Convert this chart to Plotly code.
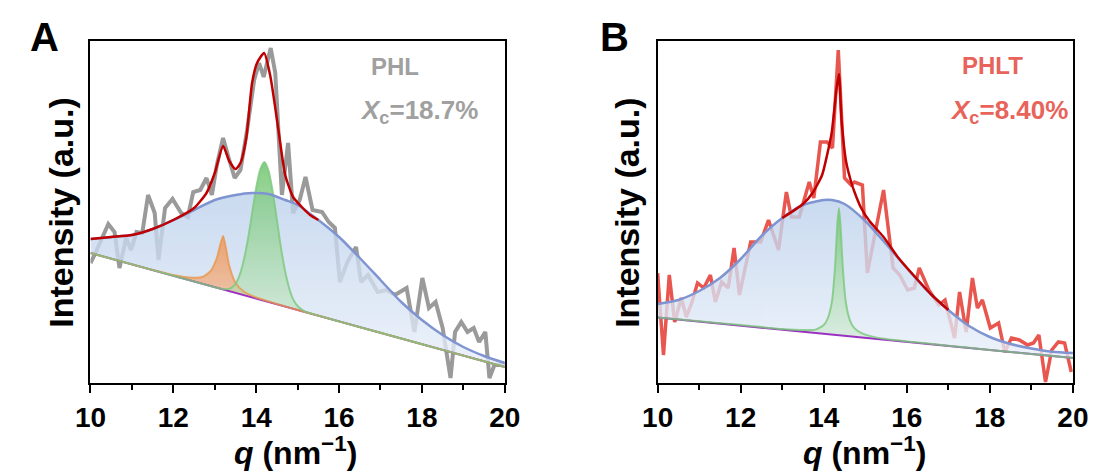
import plotly.graph_objects as go

# ---------------- Panel A (PHL) ----------------
qA_raw = [10.00, 10.12, 10.43, 10.58, 10.70, 10.86, 10.98, 11.11, 11.25, 11.39, 11.55, 11.64, 11.80, 11.98,
          12.19, 12.35, 12.48, 12.65, 12.80, 12.93, 13.05, 13.20, 13.35, 13.48, 13.62, 13.78, 13.95, 14.07,
          14.18, 14.35, 14.46, 14.55, 14.62, 14.77, 14.89, 15.05, 15.19, 15.36, 15.59, 15.75, 15.90, 16.02,
          16.20, 16.41, 16.53, 16.70, 16.93, 17.15, 17.35, 17.63, 17.82, 18.01, 18.17, 18.33, 18.50, 18.69,
          18.80, 18.95, 19.10, 19.25, 19.38, 19.53, 19.63, 19.75, 19.89, 20.00]
yA_raw = [120, 130, 159, 151, 115, 145, 133, 151, 150, 188, 170, 123, 175, 184,
          170, 166, 191, 193, 205, 188, 218, 245, 223, 205, 213, 253, 303, 320,
          306, 335, 310, 250, 188, 240, 170, 183, 206, 173, 171, 161, 155, 101,
          121, 136, 101, 108, 91, 93, 88, 95, 51, 105, 75, 81, 55, 5,
          51, 61, 51, 55, 41, 51, 5, 18, 18, 20]

qA_fit = [10.0, 10.5, 11.0, 11.5, 12.0, 12.5, 12.8, 13.0, 13.2, 13.35, 13.5, 13.62, 13.76, 13.9, 14.02,
          14.19, 14.34, 14.54, 14.7, 14.89, 15.1, 15.3, 15.5]
yA_fit = [144, 146, 148, 154, 163, 175, 190, 210, 237, 222, 214, 220, 245, 300, 320,
          330, 307, 252, 208, 186, 176, 168, 163]

qA_halo = [10.0, 10.5, 11.0, 11.5, 12.0, 12.5, 13.0, 13.5, 13.9, 14.3, 14.7, 15.0, 15.5, 16.0, 16.5,
           17.0, 17.5, 18.0, 18.5, 19.0, 19.5, 20.0]
yA_halo = [144, 146, 148, 154, 163, 173, 183, 188, 190, 189, 183, 178, 163, 146, 125,
           103, 81, 63, 48, 36, 27, 20]

qA_base = [10, 11, 12, 13, 14, 15, 16, 17, 18, 19, 20]
yA_base = [130, 118.6, 107.2, 95.8, 84.4, 73, 61.6, 50.2, 38.8, 27.4, 16]

qA_orange = [10, 11, 12, 12.4, 12.7, 12.9, 13.05, 13.2, 13.35, 13.5, 13.7, 14.0, 14.5, 15, 16, 17, 18, 19, 20]
yA_orange = [130, 118.6, 108, 105.5, 106, 112, 125, 147, 117, 100, 91.5, 85.5, 79, 73, 61.6, 50.2, 38.8, 27.4, 16]

qA_green = [10, 11, 12, 13, 13.2, 13.3, 13.4, 13.5, 13.6, 13.7, 13.8, 13.9, 14.0, 14.1, 14.2, 14.3, 14.4,
            14.5, 14.6, 14.7, 14.8, 14.9, 15.0, 15.1, 15.2, 16, 17, 18, 19, 20]
yA_green = [130, 118.6, 107.2, 95.8, 93.9, 93.9, 95.2, 99.1, 107.9, 122.8, 143.7, 169.5, 195.4, 214, 221,
            212, 191, 163, 134.6, 111.4, 94.3, 83, 77, 73.4, 71.1, 61.6, 50.2, 38.8, 27.4, 16]

# ---------------- Panel B (PHLT) ----------------
qB_raw = [10.0, 10.14, 10.28, 10.41, 10.57, 10.69, 10.82, 10.96, 11.11, 11.27, 11.39, 11.54, 11.7, 11.84,
          11.97, 12.1, 12.24, 12.48, 12.67, 12.91, 13.1, 13.22, 13.41, 13.65, 13.76, 13.92, 14.08, 14.21,
          14.35, 14.5, 14.66, 14.74, 14.93, 15.05, 15.44, 15.67, 15.83, 16.02, 16.18, 16.3, 16.53, 16.77,
          16.92, 17.15, 17.27, 17.43, 17.58, 17.7, 17.82, 18.01, 18.21, 18.36, 18.52, 18.71, 18.91, 19.05,
          19.18, 19.34, 19.49, 19.65, 19.8, 19.96]
yB_raw = [110, 28, 108, 61, 85, 66, 80, 100, 95, 108, 81, 101, 95, 135,
          88, 115, 141, 141, 163, 133, 191, 166, 166, 201, 185, 241, 241, 235,
          333, 205, 198, 201, 198, 110, 193, 115, 108, 93, 95, 115, 93, 78,
          83, 45, 91, 51, 105, 75, 83, 55, 60, 31, 45, 43, 38, 40,
          48, 1, 33, 41, 40, 11]

qB_fit = [13.0, 13.5, 13.73, 13.96, 14.08, 14.19, 14.31, 14.365, 14.43, 14.54, 14.66, 14.74, 14.9, 15.1,
          15.44, 15.8, 16.2, 16.6, 17.0]
yB_fit = [165, 179, 190, 208, 228, 250, 295, 309, 262, 221, 201, 191, 175, 162,
          146, 125, 106, 88, 73]

qB_halo = [10.0, 10.5, 11.0, 11.5, 12.0, 12.5, 13.0, 13.5, 14.0, 14.2, 14.5, 15.0, 15.5, 16.0, 16.5,
           17.0, 17.5, 18.0, 18.5, 19.0, 19.5, 20.0]
yB_halo = [79, 83, 92, 105, 124, 147, 165, 178, 183, 183, 179, 162, 139, 115, 92,
           73, 57, 46, 39, 34.5, 31.3, 30]

qB_base = [10, 11, 12, 13, 14, 15, 16, 17, 18, 19, 20]
yB_base = [65.5, 61.5, 57.4, 53.3, 49.2, 45.2, 41.1, 37.1, 33.0, 28.9, 24.9]

qB_green = [10, 11, 12, 13, 13.5, 13.8, 14.0, 14.1, 14.2, 14.27, 14.33, 14.365, 14.4, 14.46, 14.53,
            14.63, 14.73, 14.9, 15.2, 15.5, 16, 17, 18, 19, 20]
yB_green = [65.5, 61.7, 57.9, 54.0, 52.9, 53.4, 58, 65, 82.4, 115, 161, 175, 160.6, 114.4, 81,
            62.7, 55.1, 50.1, 46.1, 44, 41.6, 37.3, 33, 28.9, 24.9]

x_ticks = [10, 12, 14, 16, 18, 20]
x_range = [10, 20]
y_range = [0, 342.3]

FONT = "Liberation Sans, Arial, Helvetica, sans-serif"

fig = go.Figure()


def add_panel(xa, ya, q_raw, y_raw, raw_color, raw_width,
              q_base, y_base, q_halo, y_halo, q_fit, y_fit, peaks, base_color):
    # raw data (under translucent fills)
    fig.add_trace(go.Scatter(x=q_raw, y=y_raw, mode="lines", xaxis=xa, yaxis=ya,
                             line=dict(color=raw_color, width=raw_width), showlegend=False,
                             hoverinfo="skip"))
    # amorphous halo fill
    fig.add_trace(go.Scatter(x=q_base, y=y_base, mode="lines", xaxis=xa, yaxis=ya,
                             line=dict(width=0), showlegend=False, hoverinfo="skip"))
    fig.add_trace(go.Scatter(x=q_halo, y=y_halo, mode="lines", xaxis=xa, yaxis=ya,
                             line=dict(width=0, shape="spline", smoothing=0.7), fill="tonexty",
                             fillcolor="rgba(200,216,238,0.75)",
                             fillgradient=dict(type="vertical",
                                               colorscale=[[0, "rgba(232,239,249,0.78)"],
                                                           [1, "rgba(188,209,236,0.80)"]]),
                             showlegend=False, hoverinfo="skip"))
    # crystalline peaks fills
    for qp, yp, lc, c0, c1 in peaks:
        fig.add_trace(go.Scatter(x=q_base, y=y_base, mode="lines", xaxis=xa, yaxis=ya,
                                 line=dict(width=0), showlegend=False, hoverinfo="skip"))
        fig.add_trace(go.Scatter(x=qp, y=yp, mode="lines", xaxis=xa, yaxis=ya,
                                 line=dict(width=0, shape="spline", smoothing=0.6), fill="tonexty",
                                 fillcolor=c1,
                                 fillgradient=dict(type="vertical", colorscale=[[0, c0], [1, c1]]),
                                 showlegend=False, hoverinfo="skip"))
    # lines
    fig.add_trace(go.Scatter(x=q_base, y=y_base, mode="lines", xaxis=xa, yaxis=ya,
                             line=dict(color=base_color, width=2), showlegend=False, hoverinfo="skip"))
    for qp, yp, lc, c0, c1 in peaks:
        fig.add_trace(go.Scatter(x=qp, y=yp, mode="lines", xaxis=xa, yaxis=ya,
                                 line=dict(color=lc, width=2, shape="spline", smoothing=0.6),
                                 opacity=0.8, showlegend=False, hoverinfo="skip"))
    fig.add_trace(go.Scatter(x=q_halo, y=y_halo, mode="lines", xaxis=xa, yaxis=ya,
                             line=dict(color="#7f94d0", width=2.5, shape="spline", smoothing=0.7),
                             showlegend=False, hoverinfo="skip"))
    fig.add_trace(go.Scatter(x=q_fit, y=y_fit, mode="lines", xaxis=xa, yaxis=ya,
                             line=dict(color="#c00000", width=2.5, shape="spline", smoothing=0.6),
                             showlegend=False, hoverinfo="skip"))


add_panel("x", "y", qA_raw, yA_raw, "#9a9a9a", 4,
          qA_base, yA_base, qA_halo, yA_halo, qA_fit, yA_fit,
          [(qA_orange, yA_orange, "#e8984e", "rgba(246,214,186,0.55)", "rgba(240,150,90,0.85)"),
           (qA_green, yA_green, "#7cc87c", "rgba(215,238,212,0.45)", "rgba(110,196,110,0.85)")],
          "#a030c0")

add_panel("x2", "y2", qB_raw, yB_raw, "#e8574f", 3.5,
          qB_base, yB_base, qB_halo, yB_halo, qB_fit, yB_fit,
          [(qB_green, yB_green, "#7cc87c", "rgba(215,238,212,0.45)", "rgba(110,196,110,0.85)")],
          "#9a30c0")

xaxis_style = dict(range=x_range, tickvals=x_ticks, ticktext=[str(t) for t in x_ticks],
                   showline=True, linecolor="black", linewidth=2, mirror=True,
                   ticks="outside", ticklen=8, tickwidth=2, tickcolor="black",
                   minor=dict(dtick=1, ticks="outside", ticklen=5, tickwidth=2, tickcolor="black"),
                   tickfont=dict(family=FONT, size=28, color="black", weight="bold"),
                   showgrid=False, zeroline=False, fixedrange=True)
yaxis_style = dict(range=y_range, showline=True, linecolor="black", linewidth=2, mirror=True,
                   ticks="", showticklabels=False, showgrid=False, zeroline=False, fixedrange=True)

y_dom = [1 - 383 / 475, 1 - 40.7 / 475]
fig.update_layout(
    width=1110, height=475, autosize=False,
    margin=dict(l=0, r=0, t=0, b=0),
    paper_bgcolor="white", plot_bgcolor="white",
    xaxis=dict(domain=[76.7 / 1110, 503.3 / 1110], anchor="y", **xaxis_style),
    yaxis=dict(domain=y_dom, anchor="x", **yaxis_style),
    xaxis2=dict(domain=[660.7 / 1110, 1088.3 / 1110], anchor="y2", **xaxis_style),
    yaxis2=dict(domain=y_dom, anchor="x2", **yaxis_style),
    showlegend=False,
)


def ann(text, px, py, size, color="black", angle=0):
    fig.add_annotation(text=text, x=px / 1110, y=1 - py / 475, xref="paper", yref="paper",
                       showarrow=False, textangle=angle, xanchor="center", yanchor="middle",
                       font=dict(family=FONT, size=size, color=color), borderpad=0)


ann("<b>A</b>", 29, 37, 40)
ann("<b>B</b>", 616, 37, 40)
ann("<b>Intensity (a.u.)</b>", 46, 213, 34, angle=-90)
ann("<b>Intensity (a.u.)</b>", 629, 213, 34, angle=-90)
ann("<b><i>q</i> (nm<sup>−1</sup>)</b>", 288, 451, 32)
ann("<b><i>q</i> (nm<sup>−1</sup>)</b>", 874, 451, 32)
ann("<b>PHL</b>", 390, 67, 24, "#a0a0a0")
ann("<b><i>X</i><sub>c</sub>=18.7%</b>", 415, 111, 26, "#a0a0a0")
ann("<b>PHLT</b>", 1005, 66, 24, "#e8645a")
ann("<b><i>X</i><sub>c</sub>=8.40%</b>", 1022, 111, 26, "#e8645a")

fig.write_html("out.html")
